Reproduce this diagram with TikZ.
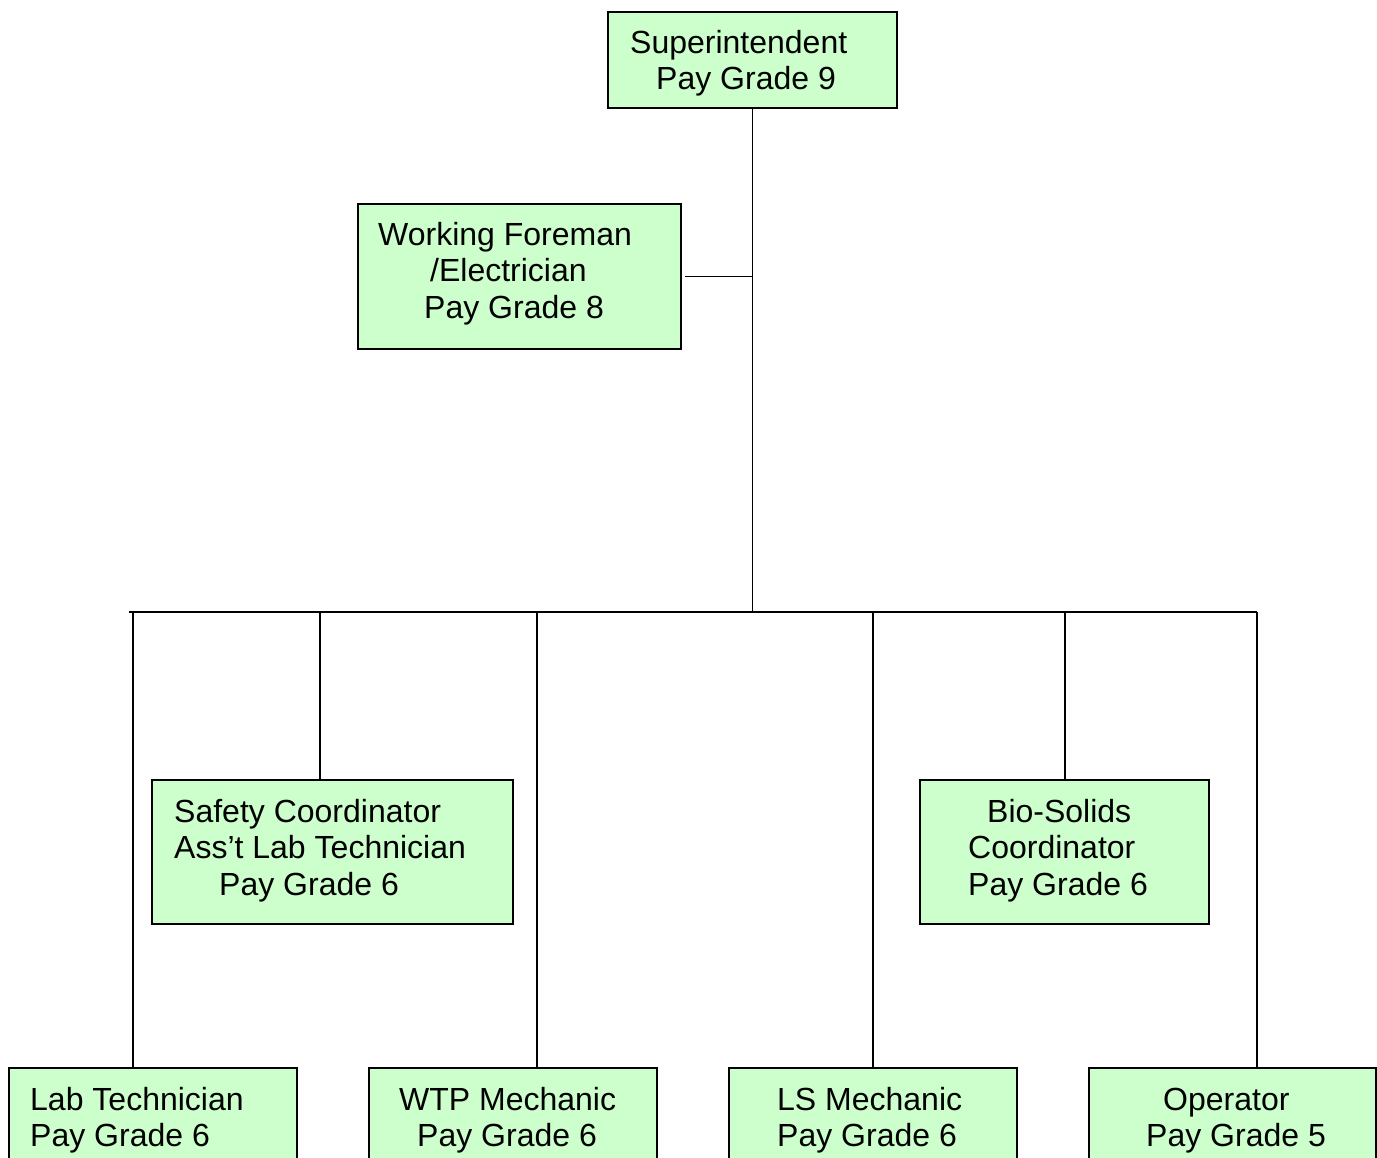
\documentclass[tikz,border=0pt]{standalone}
\usepackage{fontspec}
\setmainfont{Liberation Sans}
\definecolor{boxgreen}{HTML}{CCFFCC}
\begin{document}
\begin{tikzpicture}[x=1pt,y=-1pt,
  box/.style={draw=black, fill=boxgreen, line width=1.6pt, inner sep=0pt, outer sep=0pt, anchor=north west},
  txt/.style={inner sep=0pt, anchor=base west, font=\fontsize{32}{36}\selectfont},
  wire/.style={line width=1.6pt}]
\useasboundingbox (0,0) rectangle (1377,1158);
\fill[white] (0,0) rectangle (1377,1158);
\clip (0,0) rectangle (1377,1158);

% boxes
\node[box, minimum width=289pt, minimum height=96pt]  (sup)  at (608,12)  {};
\node[box, minimum width=323pt, minimum height=145pt] (fore) at (358,204) {};
\node[box, minimum width=361pt, minimum height=144pt] (saf)  at (152,780) {};
\node[box, minimum width=289pt, minimum height=144pt] (bio)  at (920,780) {};
\node[box, minimum width=288pt, minimum height=110pt] (lab)  at (9,1068)   {};
\node[box, minimum width=288pt, minimum height=110pt] (wtp)  at (369,1068) {};
\node[box, minimum width=288pt, minimum height=110pt] (ls)   at (729,1068) {};
\node[box, minimum width=287pt, minimum height=110pt] (op)   at (1089,1068) {};

% labels
\node[txt] (sup1) at (630,54) {Superintendent};
\node[txt] (sup2) at (656,90) {Pay Grade 9};

\node[txt] (fore1) at (378,246) {Working Foreman};
\node[txt] (fore2) at (430,282) {/Electrician};
\node[txt] (fore3) at (424,319) {Pay Grade 8};

\node[txt] (saf1) at (174,822) {Safety Coordinator};
\node[txt] (saf2) at (174,858) {Ass’t Lab Technician};
\node[txt] (saf3) at (219,895) {Pay Grade 6};

\node[txt] (bio1) at (987,822) {Bio-Solids};
\node[txt] (bio2) at (968,858) {Coordinator};
\node[txt] (bio3) at (968,895) {Pay Grade 6};

\node[txt] (lab1) at (30,1110) {Lab Technician};
\node[txt] (lab2) at (30,1146) {Pay Grade 6};

\node[txt] (wtp1) at (399,1110) {WTP Mechanic};
\node[txt] (wtp2) at (417,1146) {Pay Grade 6};

\node[txt] (ls1) at (777,1110) {LS Mechanic};
\node[txt] (ls2) at (777,1146) {Pay Grade 6};

\node[txt] (op1) at (1163,1110) {Operator};
\node[txt] (op2) at (1146,1146) {Pay Grade 5};

% bus and drop points
\coordinate (busL) at (129,612);
\coordinate (busR) at (1257,612);
\coordinate (hub)  at (752.5,612);
\coordinate (d1) at (133,612);
\coordinate (d2) at (320,612);
\coordinate (d3) at (537,612);
\coordinate (d4) at (873,612);
\coordinate (d5) at (1065,612);
\coordinate (d6) at (1257,612);

% connectors
\draw[wire] (sup.south) -- (hub);
\draw[wire] ([xshift=4pt]fore.east) -- (fore.east -| hub);
\draw[wire] (busL) -- (busR);
\draw[wire] (d1) -- (d1 |- lab.north);
\draw[wire] (d2) -- (d2 |- saf.north);
\draw[wire] (d3) -- (d3 |- wtp.north);
\draw[wire] (d4) -- (d4 |- ls.north);
\draw[wire] (d5) -- (d5 |- bio.north);
\draw[wire] (d6) -- (d6 |- op.north);
\end{tikzpicture}
\end{document}
